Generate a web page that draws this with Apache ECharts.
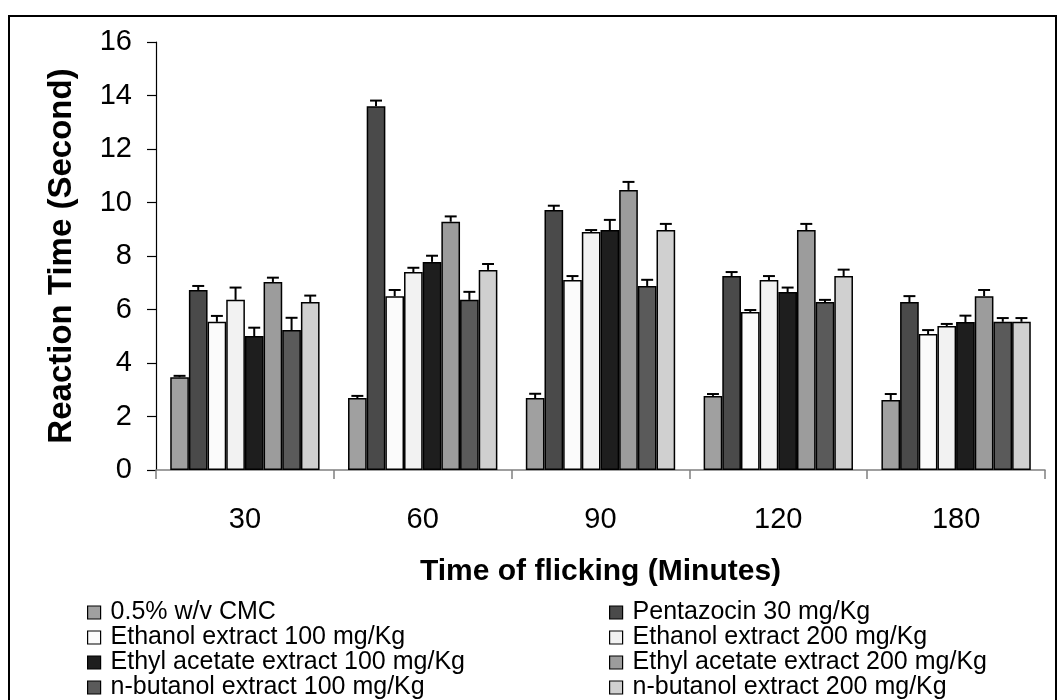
<!DOCTYPE html>
<html>
<head>
<meta charset="utf-8">
<script src="https://cdn.jsdelivr.net/npm/echarts@6/dist/echarts.min.js"></script>
<style>html,body{margin:0;padding:0;background:#fff;}#c{width:1058px;height:700px;}</style>
</head>
<body>
<div id="c"></div>
<script>
const categories = ['30', '60', '90', '120', '180'];
const seriesNames = [
  '0.5% w/v CMC', 'Pentazocin 30 mg/Kg',
  'Ethanol extract 100 mg/Kg', 'Ethanol extract 200 mg/Kg',
  'Ethyl acetate extract 100 mg/Kg', 'Ethyl acetate extract 200 mg/Kg',
  'n-butanol extract 100 mg/Kg', 'n-butanol extract 200 mg/Kg'
];
const cmc = [3.47, 2.69, 2.69, 2.77, 2.62];
const cmcErr = [0.05, 0.08, 0.16, 0.07, 0.22];
const pentazocin = [6.73, 13.6, 9.72, 7.25, 6.28];
const pentazocinErr = [0.15, 0.21, 0.16, 0.15, 0.22];
const ethanol100 = [5.54, 6.50, 7.10, 5.91, 5.08];
const ethanol100Err = [0.22, 0.23, 0.15, 0.07, 0.15];
const ethanol200 = [6.36, 7.40, 8.90, 7.10, 5.38];
const ethanol200Err = [0.46, 0.16, 0.07, 0.15, 0.08];
const ethylAcetate100 = [5.01, 7.78, 8.97, 6.65, 5.53];
const ethylAcetate100Err = [0.31, 0.23, 0.38, 0.17, 0.24];
const ethylAcetate200 = [7.03, 9.28, 10.47, 8.97, 6.50];
const ethylAcetate200Err = [0.16, 0.20, 0.30, 0.23, 0.23];
const butanol100 = [5.23, 6.36, 6.88, 6.28, 5.54];
const butanol100Err = [0.46, 0.30, 0.23, 0.08, 0.14];
const butanol200 = [6.28, 7.48, 8.97, 7.25, 5.54];
const butanol200Err = [0.24, 0.22, 0.23, 0.24, 0.14];
const yTicks = [0, 2, 4, 6, 8, 10, 12, 14, 16];

const values = [cmc, pentazocin, ethanol100, ethanol200, ethylAcetate100, ethylAcetate200, butanol100, butanol200];
const errors = [cmcErr, pentazocinErr, ethanol100Err, ethanol200Err, ethylAcetate100Err, ethylAcetate200Err, butanol100Err, butanol200Err];
const colors = ['#a0a0a0', '#4a4a4a', '#fbfbfb', '#f2f2f2', '#1e1e1e', '#9c9c9c', '#5a5a5a', '#d0d0d0'];
const GAP = 0.16;
const N = seriesNames.length;

const FONT = '"Liberation Sans", Arial, sans-serif';

const barSeries = seriesNames.map((name, i) => ({
  name: name,
  type: 'bar',
  data: values[i],
  barGap: '0%',
  barCategoryGap: (GAP * 100) + '%',
  itemStyle: { color: colors[i], borderColor: '#000', borderWidth: 1.5 },
  emphasis: { disabled: true },
  animation: false,
  z: 2
}));

const errData = [];
values.forEach((vals, s) => {
  vals.forEach((v, c) => { errData.push([c, v + errors[s][c], v, s]); });
});

const errSeries = {
  type: 'custom',
  name: 'err',
  data: errData,
  encode: { x: 0, y: 1 },
  z: 3,
  silent: true,
  animation: false,
  renderItem: function (params, api) {
    const c = api.value(0);
    const top = api.value(1);
    const v = api.value(2);
    const s = api.value(3);
    const band = api.size([1, 0])[0];
    const barW = band * (1 - GAP) / N;
    const cx = api.coord([c, 0])[0] - band * (1 - GAP) / 2 + barW * (s + 0.5);
    const yTop = api.coord([c, top])[1];
    const yBase = api.coord([c, v])[1];
    const cap = barW * 0.32;
    const st = { stroke: '#000', lineWidth: 2 };
    return {
      type: 'group',
      children: [
        { type: 'line', shape: { x1: cx, y1: yBase, x2: cx, y2: yTop }, style: st },
        { type: 'line', shape: { x1: cx - cap, y1: yTop, x2: cx + cap, y2: yTop }, style: st }
      ]
    };
  }
};

const legendCommon = {
  orient: 'vertical',
  itemWidth: 13,
  itemHeight: 13,
  itemGap: 0,
  padding: 0,
  height: 120,
  icon: 'rect',
  selectedMode: false,
  itemStyle: { borderColor: '#000', borderWidth: 1.2 },
  textStyle: { fontFamily: FONT, fontSize: 25, color: '#000', lineHeight: 24, padding: [0, 0, 0, 5] }
};

const chart = echarts.init(document.getElementById('c'));
chart.setOption({
  animation: false,
  backgroundColor: '#fff',
  grid: { left: 156, right: 13, top: 42, bottom: 230, containLabel: false },
  graphic: [{
    type: 'rect',
    shape: { x: 9, y: 16, width: 1047, height: 720 },
    style: { fill: 'none', stroke: '#000', lineWidth: 2 },
    silent: true, z: 0
  }],
  legend: [
    Object.assign({}, legendCommon, { left: 87, top: 600, data: seriesNames.filter((_, i) => i % 2 === 0) }),
    Object.assign({}, legendCommon, { left: 609, top: 600, data: seriesNames.filter((_, i) => i % 2 === 1) })
  ],
  xAxis: {
    type: 'category',
    data: categories,
    name: 'Time of flicking (Minutes)',
    nameLocation: 'middle',
    nameGap: 87,
    nameTextStyle: { fontFamily: FONT, fontSize: 30, fontWeight: 'bold', color: '#000' },
    axisLine: { lineStyle: { color: '#808080', width: 1.5 } },
    axisTick: { show: true, alignWithLabel: false, length: 9, lineStyle: { color: '#808080', width: 1.5 } },
    axisLabel: { fontFamily: FONT, fontSize: 29, color: '#000', margin: 35 },
    splitLine: { show: false }
  },
  yAxis: {
    type: 'value',
    min: yTicks[0],
    max: yTicks[yTicks.length - 1],
    interval: yTicks[1] - yTicks[0],
    name: 'Reaction Time (Second)',
    nameLocation: 'middle',
    nameGap: 78,
    nameTextStyle: { fontFamily: FONT, fontSize: 33, fontWeight: 'bold', color: '#000' },
    axisLine: { show: true, lineStyle: { color: '#000', width: 1.2 } },
    axisTick: { show: true, length: 9, lineStyle: { color: '#000', width: 1.2 } },
    axisLabel: { fontFamily: FONT, fontSize: 29, color: '#000', margin: 24 },
    splitLine: { show: false }
  },
  series: barSeries.concat([errSeries])
});
</script>
</body>
</html>
